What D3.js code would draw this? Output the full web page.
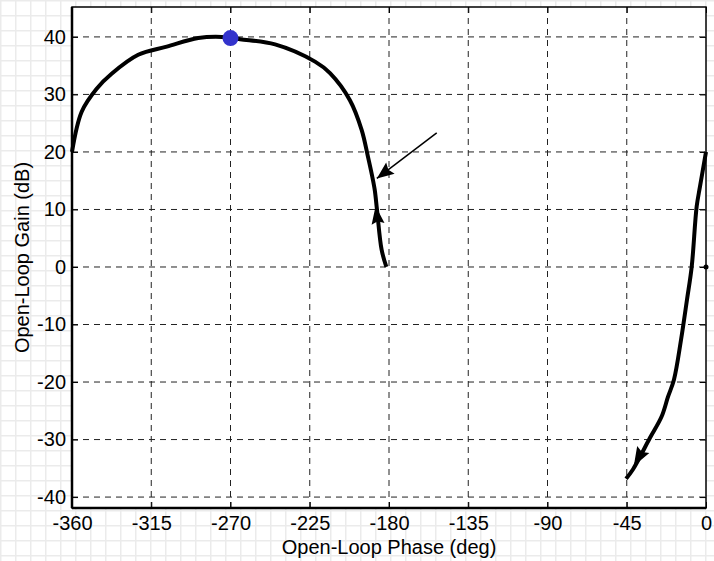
<!DOCTYPE html>
<html lang="en">
<head>
    <meta charset="UTF-8">
    <title>Nichols</title>
    <style>
        html,
        body {
            margin: 0;
            height: 100%;
            overflow: hidden;
            background: #fff;
        }
        text { font-family: "Liberation Sans", Arial, sans-serif; }
    </style>
    <script src="https://d3js.org/d3.v7.min.js"></script>
</head>
<body>
    <svg id="svg"></svg>
    <script>
        // loop 1: from -360 deg peaking near 40 dB, falling to -180 deg
        const phase1 = [-360, -354.5, -346, -337.5, -322.4, -306.2, -288.3, -275, -264.6, -244.7, -222, -213.5, -202.2, -195.5, -191.9, -189.7, -188.1, -186.8, -184.2, -181.5];
        const gain1 = [20, 27, 31, 33.6, 36.9, 38.3, 39.8, 40, 39.6, 38.7, 35.7, 33.7, 29, 23.8, 19.1, 16, 13.4, 9.9, 3, 0];
        // loop 2: from 0 deg / 20 dB down to -45 deg
        const phase2 = [0, -3.4, -5.3, -8.1, -10.8, -14.2, -18.2, -21.6, -25.2, -31.8, -41.5, -45.4];
        const gain2 = [20, 14, 10.5, 0.1, -5.7, -12.7, -19.6, -22.6, -26, -29.7, -35.2, -36.8];
        const peak = { phase: -270, gain: 39.8 };
        const xTicks = [-360, -315, -270, -225, -180, -135, -90, -45, 0];
        const yTicks = [-40, -30, -20, -10, 0, 10, 20, 30, 40];

        const width = 714, height = 561;
        const svg = d3.select('#svg').attr('width', width).attr('height', height);
        const margin = { top: 7, left: 72, bottom: 53, right: 8 };
        const innerWidth = width - margin.left - margin.right;
        const innerHeight = height - margin.top - margin.bottom;
        const fontSize = 20;

        // graph-paper background
        const pat = svg.append('defs').append('pattern').attr('id', 'paper')
            .attr('width', 15).attr('height', 15).attr('patternUnits', 'userSpaceOnUse');
        pat.append('rect').attr('width', 15).attr('height', 15).attr('fill', '#fff');
        pat.append('path').attr('d', 'M0,0V15M0,0H15').attr('stroke', '#ebebeb').attr('stroke-width', 3);
        svg.append('rect').attr('width', width).attr('height', height).attr('fill', 'url(#paper)');

        const g = svg.append('g').attr('transform', `translate(${margin.left},${margin.top})`);
        g.append('rect').attr('width', innerWidth).attr('height', innerHeight).attr('fill', '#fff');

        const xScale = d3.scaleLinear().domain([-360, 0]).range([0, innerWidth]);
        const yScale = d3.scaleLinear().domain([-41.9, 45.2]).range([innerHeight, 0]);

        // dashed grid
        g.append('g').selectAll('line').data(xTicks.slice(1, -1)).join('line')
            .attr('x1', d => xScale(d)).attr('x2', d => xScale(d))
            .attr('y1', 0).attr('y2', innerHeight)
            .attr('stroke', '#222').attr('stroke-dasharray', '6,5');
        g.append('g').selectAll('line').data(yTicks).join('line')
            .attr('y1', d => yScale(d)).attr('y2', d => yScale(d))
            .attr('x1', 0).attr('x2', innerWidth)
            .attr('stroke', '#222').attr('stroke-dasharray', '6,5');

        // axes, inward ticks, plain hyphen minus like the original
        const fmt = d => String(d);
        const xAxis = g.append('g').attr('transform', `translate(0,${innerHeight})`)
            .call(d3.axisBottom(xScale).tickValues(xTicks).tickSize(-6).tickPadding(8).tickFormat(fmt));
        const xTop = g.append('g').call(d3.axisTop(xScale).tickValues(xTicks).tickSize(-6));
        const yAxis = g.append('g')
            .call(d3.axisLeft(yScale).tickValues(yTicks).tickSize(-6).tickPadding(6).tickFormat(fmt));
        const yRight = g.append('g').attr('transform', `translate(${innerWidth},0)`)
            .call(d3.axisRight(yScale).tickValues(yTicks).tickSize(-6));
        [xTop, yRight].forEach(a => a.selectAll('text').remove());
        [xAxis, xTop, yAxis, yRight].forEach(a => {
            a.select('.domain').remove();
            a.selectAll('line').attr('stroke', '#000');
            a.selectAll('text').attr('font-size', fontSize).attr('fill', '#000')
                .attr('font-family', '"Liberation Sans", Arial, sans-serif');
        });
        g.append('rect').attr('width', innerWidth).attr('height', innerHeight)
            .attr('fill', 'none').attr('stroke', '#000').attr('stroke-width', 1.5);
        g.append('line').attr('x1', 0).attr('x2', 0).attr('y1', 0).attr('y2', innerHeight)
            .attr('stroke', '#000').attr('stroke-width', 2.5);
        g.append('line').attr('x1', 0).attr('x2', innerWidth).attr('y1', innerHeight).attr('y2', innerHeight)
            .attr('stroke', '#000').attr('stroke-width', 2.5);

        // axis titles
        g.append('text').attr('x', innerWidth / 2).attr('y', innerHeight + 46)
            .attr('text-anchor', 'middle').attr('font-size', fontSize).text('Open-Loop Phase (deg)');
        g.append('text').attr('transform', `translate(${22 - margin.left},${innerHeight / 2}) rotate(-90)`)
            .attr('text-anchor', 'middle').attr('dy', '0.35em').attr('font-size', fontSize).text('Open-Loop Gain (dB)');

        // curves
        const line = d3.line().x(d => xScale(d[0])).y(d => yScale(d[1])).curve(d3.curveCatmullRom.alpha(0.5));
        const plot = g.append('g');
        const loop1 = phase1.map((p, i) => [p, gain1[i]]);
        const loop2 = phase2.map((p, i) => [p, gain2[i]]);
        [loop1, loop2].forEach(pts => {
            plot.append('path').attr('d', line(pts)).attr('fill', 'none')
                .attr('stroke', '#000').attr('stroke-width', 4).attr('stroke-linejoin', 'round');
        });

        // arrowhead helper: tip at data point "to", pointing away from "from"
        function arrowHead(from, to, len, half) {
            const x1 = xScale(from[0]), y1 = yScale(from[1]);
            const x2 = xScale(to[0]), y2 = yScale(to[1]);
            const a = Math.atan2(y2 - y1, x2 - x1);
            const bx = x2 - len * Math.cos(a), by = y2 - len * Math.sin(a);
            const nx = -Math.sin(a) * half, ny = Math.cos(a) * half;
            const mx = x2 - len * 0.85 * Math.cos(a), my = y2 - len * 0.85 * Math.sin(a);
            plot.append('path')
                .attr('d', `M${x2},${y2}L${bx + nx},${by + ny}L${mx},${my}L${bx - nx},${by - ny}Z`)
                .attr('fill', '#000');
        }
        arrowHead([-184.2, 3], [-187.6, 10.6], 18, 6.5);
        arrowHead([-31.8, -29.7], [-41, -34.6], 19, 7);

        // annotation arrow
        const annFrom = [-152.9, 23.3], annTo = [-186.9, 15.4];
        plot.append('line')
            .attr('x1', xScale(annFrom[0])).attr('y1', yScale(annFrom[1]))
            .attr('x2', xScale(annTo[0])).attr('y2', yScale(annTo[1]))
            .attr('stroke', '#000').attr('stroke-width', 1.5);
        arrowHead(annFrom, annTo, 17, 7);

        // peak marker and critical point
        plot.append('circle').attr('cx', xScale(peak.phase)).attr('cy', yScale(peak.gain))
            .attr('r', 8).attr('fill', '#3333cc');
        plot.append('circle').attr('cx', xScale(0)).attr('cy', yScale(0))
            .attr('r', 2.5).attr('fill', '#000');
    </script>
</body>
</html>
